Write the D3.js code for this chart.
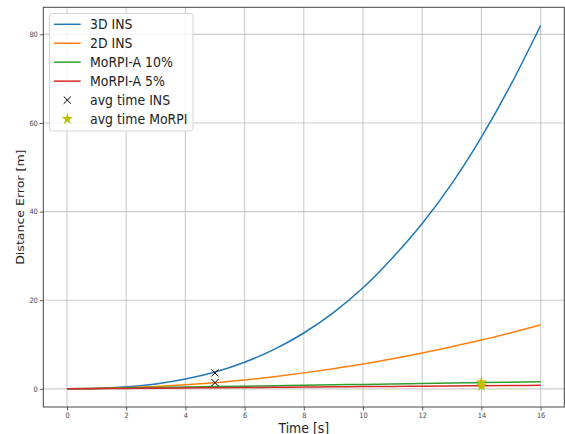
<!DOCTYPE html>
<html><head><meta charset="utf-8">
<script src="https://cdn.jsdelivr.net/npm/d3@7"></script>
<style>html,body{margin:0;padding:0;background:#fff;} svg{display:block;}</style>
</head><body>
<script>
const time = [0,1,2,3,4,5,6,7,8,9,10,11,12,13,14,15,16];
const ins3d = [0,0.1,0.45,1.1,2.2,3.8,6.0,8.9,12.6,17.2,22.8,29.6,37.3,46.3,56.8,68.7,82.0];
const ins2d = [0,0.06,0.22,0.5,0.9,1.4,2.0,2.75,3.6,4.55,5.6,6.8,8.1,9.5,11.0,12.65,14.4];
const morpi10 = [0,0.1,0.2,0.3,0.4,0.5,0.6,0.7,0.8,0.9,1.0,1.1,1.2,1.3,1.4,1.5,1.6];
const morpi5 = [0,0.05,0.1,0.15,0.2,0.25,0.3,0.35,0.4,0.45,0.5,0.55,0.6,0.65,0.7,0.75,0.8];
const avgInsT = [5,5];
const avgInsV = [3.6,1.4];
const avgMorpiT = [14,14];
const avgMorpiV = [1.4,0.7];
const xTicks = [0,2,4,6,8,10,12,14,16];
const yTicks = [0,20,40,60,80];
const seriesNames = ["3D INS","2D INS","MoRPI-A 10%","MoRPI-A 5%"];
const markerNames = ["avg time INS","avg time MoRPI"];
const colors = ["#1f77b4","#ff7f0e","#2ca02c","#d62728"];

const W=565,H=434;
const L=43.3,R=564.3,T=7.3,B=407;
const SY=1.12; // vertical stretch of text seen in reference
const svg=d3.select("body").append("svg").attr("width",W).attr("height",H);
const x=d3.scaleLinear().domain([-0.8,16.8]).range([L,R]);
const y=d3.scaleLinear().domain([-4.1,86.1]).range([B,T]);
const font="DejaVu Sans, sans-serif";

// grid
const g=svg.append("g");
g.selectAll("line.vx").data(xTicks).enter().append("line")
 .attr("x1",d=>x(d)).attr("x2",d=>x(d)).attr("y1",T).attr("y2",B)
 .attr("stroke","#b0b0b0").attr("stroke-opacity",0.65).attr("stroke-width",1.1);
g.selectAll("line.hy").data(yTicks).enter().append("line")
 .attr("y1",d=>y(d)).attr("y2",d=>y(d)).attr("x1",L).attr("x2",R)
 .attr("stroke","#b0b0b0").attr("stroke-opacity",0.65).attr("stroke-width",1.1);

// axes
const xAxis=d3.axisBottom(x).tickValues(xTicks).tickSize(3.5).tickPadding(2).tickFormat(d3.format("d"));
const yAxis=d3.axisLeft(y).tickValues(yTicks).tickSize(3.5).tickPadding(2).tickFormat(d3.format("d"));
const gx=svg.append("g").attr("transform",`translate(0,${B})`).call(xAxis);
const gy=svg.append("g").attr("transform",`translate(${L},0)`).call(yAxis);
[gx,gy].forEach(a=>{
  a.select(".domain").remove();
  a.selectAll("line").attr("stroke","#333").attr("stroke-width",0.8);
  a.selectAll("text").attr("font-family",font).attr("font-size","6.6px").attr("fill","#444")
   .attr("transform",`scale(1,${SY})`);
});

// lines
const allSeries=[ins3d,ins2d,morpi10,morpi5];
const line=d3.line().x((d,i)=>x(time[i])).y(d=>y(d)).curve(d3.curveMonotoneX);
allSeries.forEach((s,k)=>{
  svg.append("path").datum(s).attr("d",line).attr("fill","none")
   .attr("stroke",colors[k]).attr("stroke-width",1.5);
});

// markers
function cross(sel,cx,cy,r){
  sel.append("path").attr("d",`M${cx-r},${cy-r}L${cx+r},${cy+r}M${cx-r},${cy+r}L${cx+r},${cy-r}`)
   .attr("stroke","#000").attr("stroke-width",1).attr("fill","none");
}
const star=d3.symbol().type(d3.symbolStar).size(38);
avgInsT.forEach((t,i)=>cross(svg,x(t),y(avgInsV[i]),3.6));
avgMorpiT.forEach((t,i)=>{
  svg.append("path").attr("d",star).attr("transform",`translate(${x(t)},${y(avgMorpiV[i])}) scale(1,${SY})`)
   .attr("fill","#bfbf00");
});

// frame
svg.append("rect").attr("x",L).attr("y",T).attr("width",R-L).attr("height",B-T)
 .attr("fill","none").attr("stroke","#444").attr("stroke-width",1);

// labels
svg.append("text").attr("transform",`translate(${(L+R)/2},432.8) scale(1,${SY})`).attr("text-anchor","middle")
 .attr("font-family",font).attr("font-size","12.5px").attr("fill","#222").text("Time [s]");
svg.append("text").attr("transform",`translate(23.5,${(T+B)/2}) rotate(-90) scale(${SY},1)`).attr("text-anchor","middle")
 .attr("font-family",font).attr("font-size","11.2px").attr("fill","#222").text("Distance Error [m]");

// legend
const lg=svg.append("g");
lg.append("rect").attr("x",49.5).attr("y",13.5).attr("width",143.5).attr("height",117.5)
 .attr("rx",2.5).attr("fill","#fff").attr("fill-opacity",0.85).attr("stroke","#d5d5d5").attr("stroke-width",1);
const rowY=k=>24.3+k*18.95;
seriesNames.forEach((n,k)=>{
  lg.append("line").attr("x1",54).attr("x2",80.7).attr("y1",rowY(k)).attr("y2",rowY(k))
    .attr("stroke",colors[k]).attr("stroke-width",1.5);
  lg.append("text").attr("transform",`translate(90,${rowY(k)+5}) scale(1,${SY})`).attr("font-family",font)
    .attr("font-size","12.5px").attr("fill","#222").text(n);
});
cross(lg,67.3,rowY(4),3.6);
lg.append("path").attr("d",star).attr("transform",`translate(67.3,${rowY(5)}) scale(1,${SY})`).attr("fill","#bfbf00");
markerNames.forEach((n,k)=>{
  lg.append("text").attr("transform",`translate(90,${rowY(4+k)+5}) scale(1,${SY})`).attr("font-family",font)
    .attr("font-size","12.5px").attr("fill","#222").text(n);
});
</script>
</body></html>
